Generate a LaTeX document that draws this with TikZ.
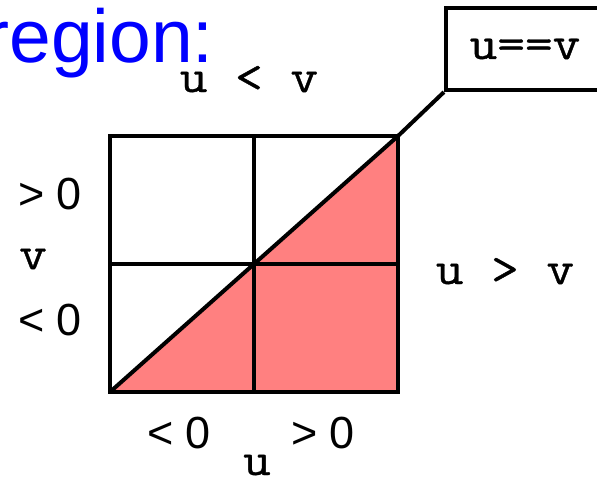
\documentclass[tikz,border=0pt]{standalone}
\usepackage{fontspec}
\setmainfont{Liberation Sans}
\setmonofont[FakeStretch=1.143,FakeBold=0.8]{Latin Modern Mono}
\definecolor{regionfill}{RGB}{255,128,128}
\definecolor{titleblue}{RGB}{0,0,255}
\begin{document}
\begin{tikzpicture}[x=1pt,y=-1pt]
\tikzset{
  gridline/.style={line width=4pt, draw=black},
  eqbox/.style={draw=black, line width=4.2pt, minimum width=158pt, minimum height=82pt, inner sep=0pt, font=\fontsize{47}{47}\selectfont\ttfamily},
  monolabel/.style={inner sep=0pt, anchor=base, font=\fontsize{47}{47}\selectfont\ttfamily},
  signlabel/.style={inner sep=0pt, anchor=base, font=\fontsize{45}{45}\selectfont},
  titlelabel/.style={inner sep=0pt, anchor=base east, text=titleblue, font=\fontsize{75}{75}\selectfont}
}
\useasboundingbox (0,0) rectangle (597,477);
\coordinate (bl) at (110,392);
\coordinate (br) at (398,392);
\coordinate (tr) at (398,136);
\coordinate (tl) at (110,136);
\coordinate (mt) at (254,136);
\coordinate (mb) at (254,392);
\coordinate (ml) at (110,264);
\coordinate (mr) at (398,264);
\fill[regionfill] (bl) -- (br) -- (tr) -- cycle;
\draw[gridline] (tl) rectangle (br);
\draw[gridline] (mt) -- (mb);
\draw[gridline] (ml) -- (mr);
\draw[gridline] (bl) -- (tr);
\node[eqbox] (eq) at (525,49) {u==v};
\draw[gridline] (tr) -- (eq.south west);
\node[titlelabel] (title) at (214,62) {region:};
\node[monolabel] (ult) at (249,92) {u < v};
\node[monolabel] (ugt) at (505,284) {u > v};
\node[signlabel] (vpos) at (50,209) {> 0};
\node[monolabel] (vname) at (33,269) {v};
\node[signlabel] (vneg) at (50,335) {< 0};
\node[signlabel] (uneg) at (179,448) {< 0};
\node[signlabel] (upos) at (323,448) {> 0};
\node[monolabel] (uname) at (257,475) {u};
\end{tikzpicture}
\end{document}
